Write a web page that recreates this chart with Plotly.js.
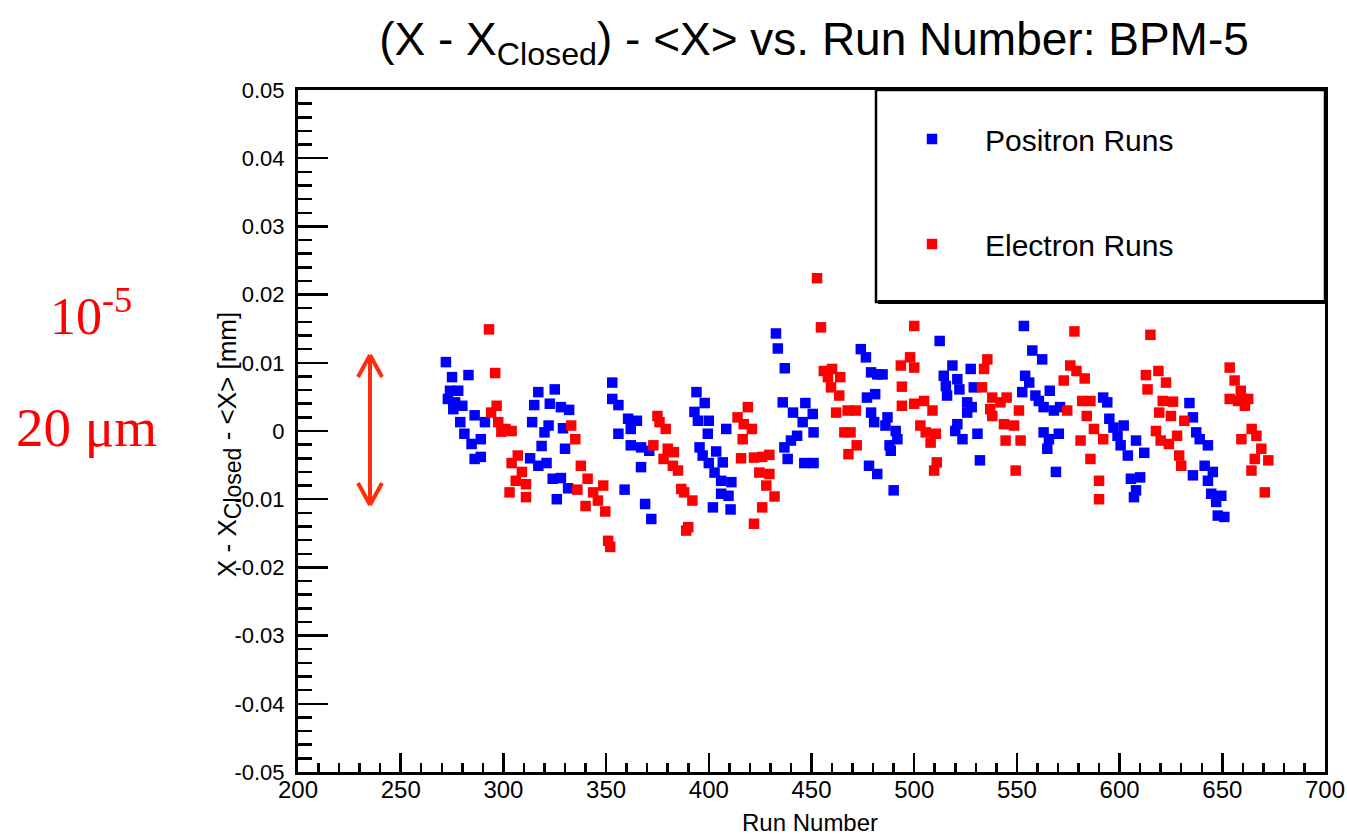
<!DOCTYPE html>
<html>
<head>
<meta charset="utf-8">
<script src="https://cdn.plot.ly/plotly-3.0.1.min.js"></script>
<style>html,body{margin:0;padding:0;background:#fff;}#chart{width:1347px;height:835px;}</style>
</head>
<body>
<div id="chart"></div>
<script>
// ---- data ----
var positronRun = [272,275,283,274,278,273,276.5,280,275.6,286,279,291,281,284.5,289,286,289,
 317,325,315,322.6,328,332,314,322,320,329,318.6,313,317,321,330,324,328,331.5,326,359,
 353,353,356,360.7,365,362,356,362,367,371,367,369,372,
 394,398,393,394.7,400,399.5,408.5,395.5,397,403.6,400,406.8,402.8,406,411,406,409.6,402,410.6,
 432.7,433.6,437,436,441,447,450.6,445.7,443,440,451,436.8,438.4,446.5,451,
 474,476.5,479,482,477,481,479,480.5,478,482,484.6,487,486,491,491.8,488,488.6,490,
 512.4,518.6,514.4,521,515.4,522,516,527.5,529,525.8,528,525.8,521,520,523.5,530.8,532,
 553.4,557.5,562.3,554,556,552.6,559,566,560.7,563,568,571,563,570.4,565.6,564.8,569,
 592,594,595,597,602,599,600.5,608,604,612,605.5,610,608,607,
 634,635.7,637.3,639,643,641.4,635.7,645.4,643,644.6,649.5,647,647.8,651];
var positronVal = [0.0101,0.0079,0.0082,0.0059,0.0059,0.0047,0.0042,0.0037,0.0032,0.0023,0.0013,0.0013,-0.0004,-0.0019,-0.0012,-0.0041,-0.0038,
 0.0057,0.0061,0.0038,0.0040,0.0035,0.0031,0.0013,0.0008,-0.0002,0.0004,-0.0022,-0.0040,-0.0051,-0.0047,-0.0026,-0.0070,-0.0069,-0.0084,-0.0100,-0.0086,
 0.0071,0.0047,0.0038,0.0018,0.0015,0.0003,-0.0004,-0.0021,-0.0024,-0.0029,-0.0053,-0.0107,-0.0129,
 0.0057,0.0041,0.0028,0.0015,0.0015,-0.0004,0.0003,-0.0024,-0.0036,-0.0030,-0.0047,-0.0046,-0.0061,-0.0073,-0.0075,-0.0092,-0.0095,-0.0112,-0.0115,
 0.0143,0.0121,0.0092,0.0042,0.0027,0.0041,0.0025,0.0013,-0.0007,-0.0014,-0.0002,-0.0024,-0.0041,-0.0047,-0.0047,
 0.0120,0.0108,0.0086,0.0083,0.0049,0.0054,0.0027,0.0013,-0.0051,-0.0063,0.0083,0.0020,0.0008,0.0000,-0.0012,-0.0021,-0.0029,-0.0087,
 0.0132,0.0096,0.0081,0.0076,0.0066,0.0061,0.0052,0.0091,0.0064,0.0042,0.0035,0.0027,0.0010,0.0000,-0.0012,-0.0004,-0.0043,
 0.0154,0.0118,0.0105,0.0081,0.0071,0.0057,0.0052,0.0059,0.0044,0.0035,0.0030,0.0035,-0.0002,-0.0004,-0.0012,-0.0026,-0.0060,
 0.0049,0.0042,0.0018,0.0005,0.0008,-0.0007,-0.0021,-0.0014,-0.0036,-0.0032,-0.0070,-0.0068,-0.0087,-0.0097,
 0.0041,0.0020,-0.0002,-0.0012,-0.0021,-0.0051,-0.0065,-0.0060,-0.0073,-0.0092,-0.0095,-0.0104,-0.0124,-0.0126];

var electronRun = [293,296,296.7,294,297.5,301,304,299,307,304,309,306,311,303,311,
 333,335,337.7,341,348.6,336,343.7,346,340,349.6,351,352,
 375,373,378,376,379,380,383,382.5,385,386.6,388,392,390,389,
 419,414,417,421,416.5,415.7,422,426,429.5,424.6,429.5,428,432,426,422,
 452.7,454.6,456,460,458,464,459.5,463.5,462,467.6,471.6,466,469,472,468,
 500,498,493.5,500,494,494,500,504.8,508.9,503,505.6,510.5,508,511,509.7,
 535.6,534,533,538,537,542,545,538,543.7,548.6,551,544.5,551.8,549.4,
 578,576,572.8,579,583,581.8,585.8,584,574.5,587.5,581,585.8,592,590,590,
 615,612.8,618.9,622.6,613.6,621,626,619.3,625,631.5,617.7,620,624,628,629,630,
 653.6,656,659,653.6,657.7,662.6,661,664.3,659.3,666.6,669,672.4,665.8,664.2,670.7];
var electronVal = [0.0149,0.0085,0.0037,0.0027,0.0013,0.0003,0.0000,-0.0001,-0.0036,-0.0047,-0.0060,-0.0073,-0.0078,-0.0090,-0.0097,
 0.0008,-0.0012,-0.0051,-0.0070,-0.0080,-0.0086,-0.0090,-0.0102,-0.0110,-0.0118,-0.0161,-0.0170,
 0.0022,-0.0021,-0.0041,0.0013,0.0003,-0.0026,-0.0031,-0.0051,-0.0058,-0.0085,-0.0090,-0.0102,-0.0141,-0.0146,
 0.0035,0.0020,0.0010,0.0003,-0.0012,-0.0040,-0.0039,-0.0038,-0.0035,-0.0061,-0.0063,-0.0080,-0.0096,-0.0112,-0.0136,
 0.0224,0.0152,0.0088,0.0091,0.0079,0.0079,0.0064,0.0052,0.0027,0.0030,0.0030,-0.0002,-0.0002,-0.0021,-0.0034,
 0.0154,0.0108,0.0096,0.0093,0.0065,0.0037,0.0040,0.0044,0.0030,0.0008,-0.0002,-0.0004,-0.0017,-0.0046,-0.0058,
 0.0105,0.0091,0.0064,0.0049,0.0032,0.0042,0.0049,0.0022,0.0010,0.0008,0.0030,-0.0014,-0.0014,-0.0058,
 0.0146,0.0096,0.0074,0.0088,0.0077,0.0044,0.0044,0.0022,0.0030,0.0003,-0.0014,-0.0041,-0.0012,-0.0073,-0.0100,
 0.0141,0.0082,0.0088,0.0071,0.0061,0.0044,0.0043,0.0027,0.0022,0.0015,0.0000,-0.0014,-0.0019,-0.0007,-0.0036,-0.0051,
 0.0093,0.0074,0.0059,0.0047,0.0044,0.0047,0.0037,0.0003,-0.0012,-0.0007,-0.0026,-0.0043,-0.0041,-0.0058,-0.0090];

var xTickVals = [200,250,300,350,400,450,500,550,600,650,700];
var xTickText = ["200","250","300","350","400","450","500","550","600","650","700"];
var yTickVals = [0.05,0.04,0.03,0.02,0.01,0,-0.01,-0.02,-0.03,-0.04,-0.05];
var yTickText = ["0.05","0.04","0.03","0.02","0.01","0","-0.01","-0.02","-0.03","-0.04","-0.05"];

// ---- geometry helpers (plot area in pixels) ----
var L = 298, R = 1325, T = 90, B = 772;
function px(x){ return (x - L) / (R - L); }
function py(y){ return (B - y) / (B - T); }

var font = "Liberation Sans, Arial, Helvetica, sans-serif";
var serif = "Liberation Serif, Times New Roman, serif";
var arrowColor = "#ff2d0a";

var traces = [
  {type:"scatter", mode:"markers", name:"Positron Runs", x:positronRun, y:positronVal,
   legendgroup:"p", marker:{symbol:"square", size:10.5, color:"#0000ff"}},
  {type:"scatter", mode:"markers", name:"Electron Runs", x:electronRun, y:electronVal,
   legendgroup:"e", marker:{symbol:"square", size:10.5, color:"#ff0000"}}
];

function seg(x0,y0,x1,y1,w,c){
  return {type:"line", xref:"paper", yref:"paper", x0:px(x0), y0:py(y0), x1:px(x1), y1:py(y1),
          line:{color:c, width:w}, layer:"above"};
}

var shapes = [
  {type:"rect", xref:"paper", yref:"paper", x0:px(876), y0:py(302), x1:px(1325), y1:py(90),
   line:{color:"#000", width:2.5}, fillcolor:"#fff", layer:"above"},
  seg(878,302,1325,302,4,"#000"),
  // red double arrow
  seg(370,357,370,503,4,arrowColor),
  seg(370,355,358,377,4,arrowColor),
  seg(370,355,382,377,4,arrowColor),
  seg(370,505,358,483,4,arrowColor),
  seg(370,505,382,483,4,arrowColor)
];

var annotations = [
  {xref:"paper", yref:"paper", x:px(229), y:py(445),
   text:"X - X<sub><span style=\"font-size:23px\">Closed</span></sub> - &lt;X&gt; [mm]",
   textangle:-90, showarrow:false, xanchor:"center", yanchor:"middle", font:{family:font, size:26, color:"#000"}},
  {xref:"paper", yref:"paper", x:px(810), y:py(822), text:"Run Number",
   showarrow:false, xanchor:"center", yanchor:"middle", font:{family:font, size:24, color:"#000"}},
  {xref:"paper", yref:"paper", x:px(48), y:py(312), text:"10<sup>-5</sup>",
   showarrow:false, xanchor:"left", yanchor:"middle", font:{family:serif, size:52, color:"#ff0000"}},
  {xref:"paper", yref:"paper", x:px(14), y:py(427), text:"20 μm",
   showarrow:false, xanchor:"left", yanchor:"middle", font:{family:serif, size:55, color:"#ff0000"}}
];

var layout = {
  width:1347, height:835,
  margin:{l:L, r:1347-R, t:T, b:835-B, pad:0},
  paper_bgcolor:"#fff", plot_bgcolor:"#fff",
  font:{family:font, color:"#000"},
  title:{text:"(X - X<sub>Closed</sub>) - &lt;X&gt; vs. Run Number: BPM-5",
         x:px(814), xanchor:"center", y:1-39/835, yanchor:"middle", xref:"paper", yref:"container",
         font:{family:font, size:46, color:"#000"}},
  showlegend:true,
  legend:{x:px(879), y:py(113), xanchor:"left", yanchor:"top", bgcolor:"rgba(0,0,0,0)", borderwidth:0,
          font:{family:font, size:30, color:"#000"}, itemwidth:96, traceorder:"grouped", tracegroupgap:63},
  xaxis:{range:[200,700], showgrid:false, zeroline:false, showline:true, linecolor:"#000", linewidth:3, mirror:true,
         ticks:"inside", ticklen:19, tickwidth:2.5, tickcolor:"#000", tickmode:"array", tickvals:xTickVals, ticktext:xTickText,
         tickfont:{family:font, size:24, color:"#000"}, ticklabelstandoff:-6,
         minor:{ticks:"inside", ticklen:9, tickwidth:2.5, tickcolor:"#000", dtick:10, tick0:200, showgrid:false}},
  yaxis:{range:[-0.05,0.05], showgrid:false, zeroline:false, showline:true, linecolor:"#000", linewidth:3, mirror:true,
         ticks:"inside", ticklen:30, tickwidth:2.5, tickcolor:"#000", tickmode:"array", tickvals:yTickVals, ticktext:yTickText,
         tickfont:{family:font, size:22, color:"#000"}, ticklabelstandoff:6,
         minor:{ticks:"inside", ticklen:14, tickwidth:2.5, tickcolor:"#000", dtick:0.002, tick0:0, showgrid:false}},
  shapes:shapes,
  annotations:annotations
};

Plotly.newPlot("chart", traces, layout, {displayModeBar:false, staticPlot:true});
</script>
</body>
</html>
